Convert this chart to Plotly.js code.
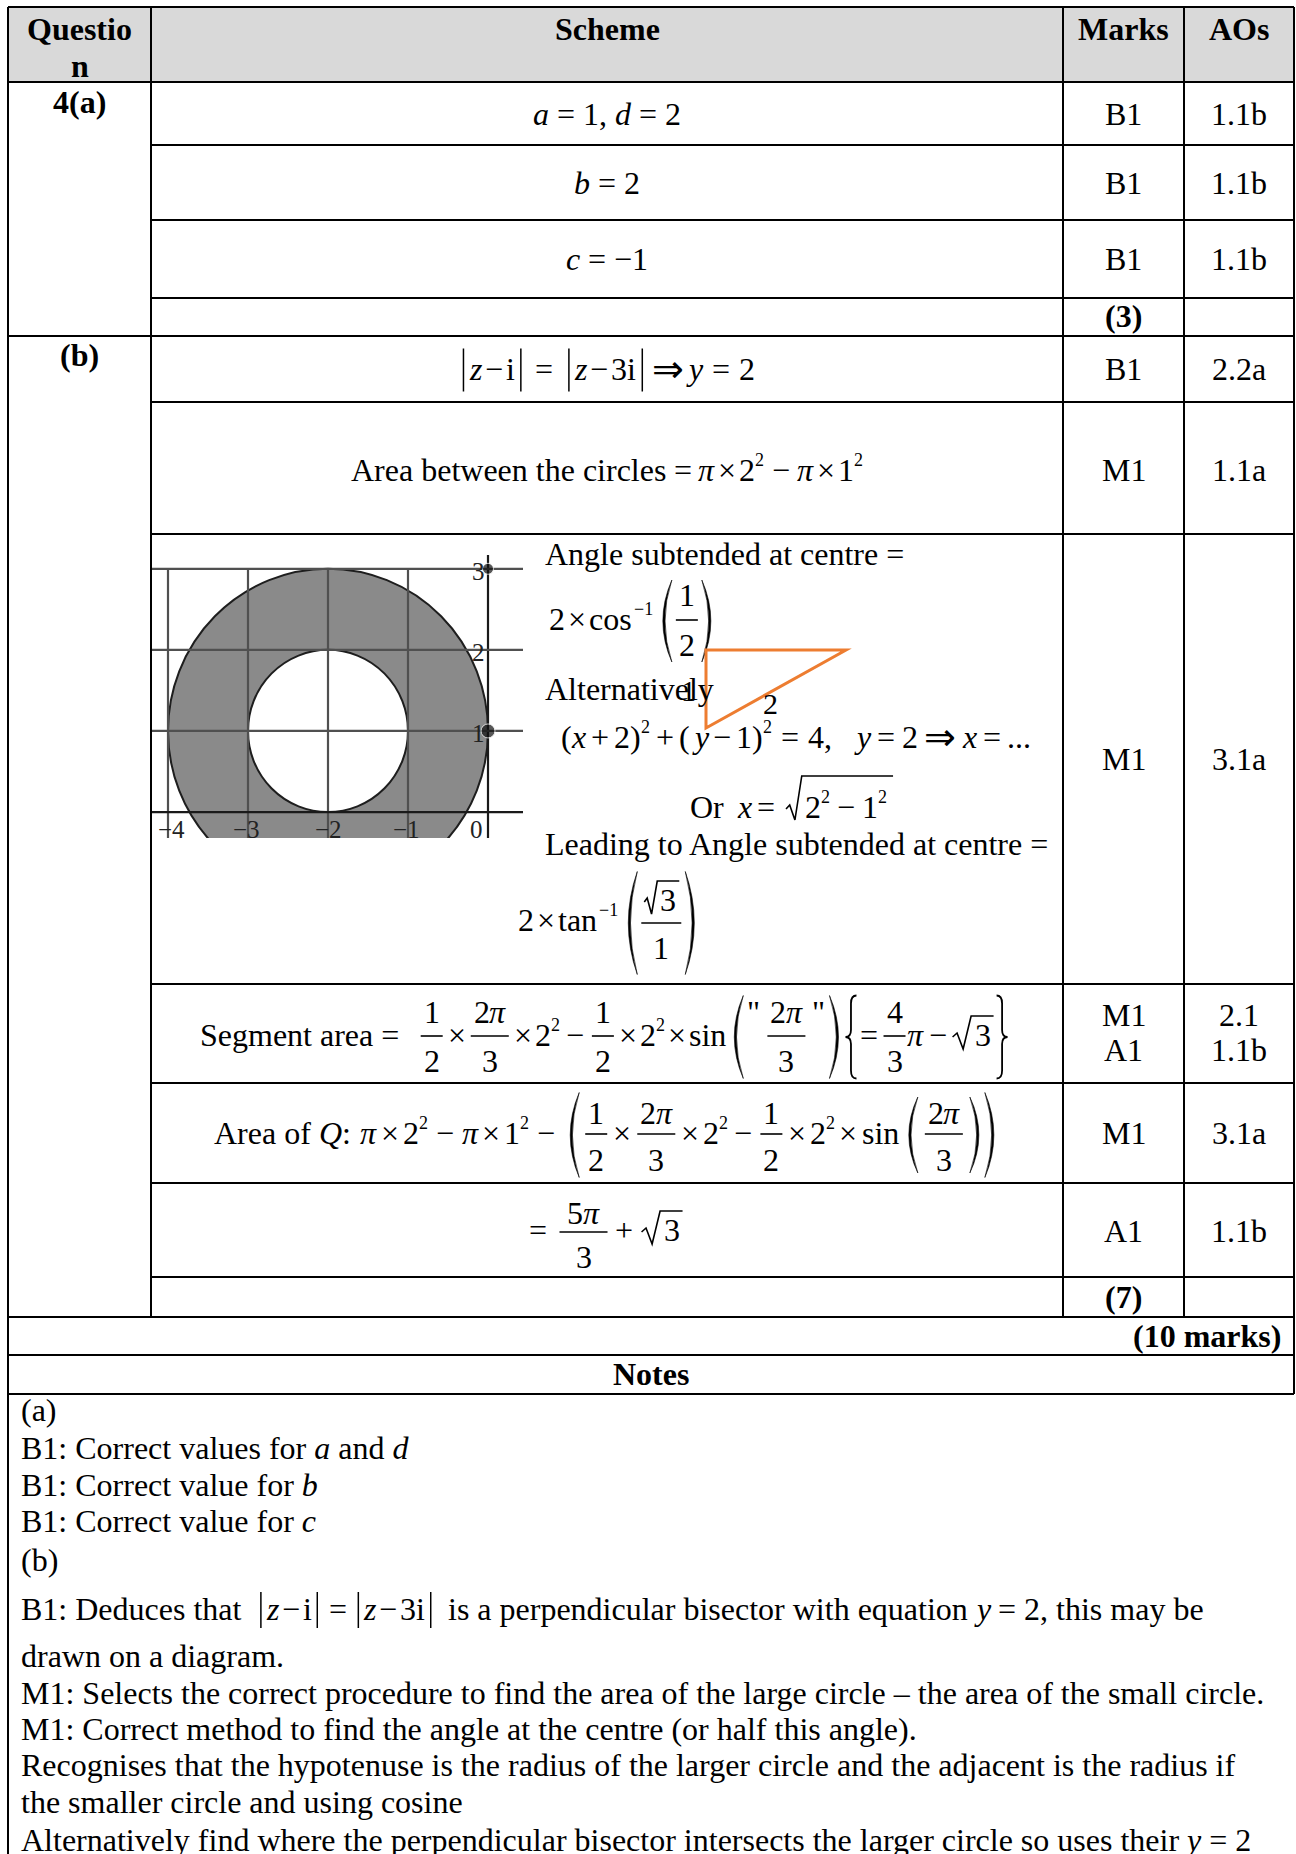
<!DOCTYPE html>
<html><head><meta charset="utf-8">
<script src="https://cdn.plot.ly/plotly-3.0.1.min.js"></script>
<style>html,body{margin:0;padding:0;background:#fff;}#chart{width:1296px;height:1854px;}</style>
</head><body><div id="chart"></div>
<script>
// ---------------- data ----------------
const headerLabels = ['Questio', 'n', 'Scheme', 'Marks', 'AOs'];
const questionParts = ['4(a)', '(b)'];
const markCodes = ['B1', 'B1', 'B1', '(3)', 'B1', 'M1', 'M1', 'M1', 'A1', 'M1', 'A1', '(7)'];
const aoCodes = ['1.1b', '1.1b', '1.1b', '', '2.2a', '1.1a', '3.1a', '2.1', '1.1b', '3.1a', '1.1b', ''];
const totalMarks = '(10 marks)';
const notesTitle = 'Notes';
const noteLines = [
  '(a)',
  'B1: Correct values for <i>a</i> and <i>d</i>',
  'B1: Correct value for <i>b</i>',
  'B1: Correct value for <i>c</i>',
  '(b)',
  null,
  'drawn on a diagram.',
  'M1: Selects the correct procedure to find the area of the large circle \u2013 the area of the small circle.',
  'M1: Correct method to find the angle at the centre (or half this angle).',
  'Recognises that the hypotenuse is the radius of the larger circle and the adjacent is the radius if',
  'the smaller circle and using cosine',
  'Alternatively find where the perpendicular bisector intersects the larger circle so uses their <i>y</i> = 2'
];
const gridX = [-4, -3, -2, -1, 0];
const gridY = [0, 1, 2, 3];
const xTickLabels = ['\u22124', '\u22123', '\u22122', '\u22121', '0'];
const yTickValues = [1, 2, 3];
const yTickLabels = ['1', '2', '3'];
const circleCentre = [-2, 1];
const circleRadii = [2, 1];
const pointX = [0, 0];
const pointY = [3, 1];
const triangleSideLabels = ['1', '2'];

// ---------------- helpers ----------------
const FAM = '"Liberation Serif", "Times New Roman", serif';
const FS = 32, SFS = 18;
const cv = document.createElement('canvas').getContext('2d');
function mw(s, size, ital, bold) {
  cv.font = (ital ? 'italic ' : '') + (bold ? 'bold ' : '') + size + 'px ' + FAM;
  return cv.measureText(s).width;
}
const annotations = [], shapes = [];
function put(s, cx, cy, o) {
  o = o || {};
  annotations.push({
    xref: 'x2', yref: 'y2', x: cx, y: cy,
    text: o.i ? '<i>' + s + '</i>' : s,
    showarrow: false, xanchor: o.xa || 'center', yanchor: 'middle',
    borderpad: 0, borderwidth: 0,
    font: {family: FAM, size: o.s || FS, color: o.c || '#000', weight: o.b ? 'bold' : 'normal'}
  });
}
function seg(x0, y0, x1, y1, w, c) {
  shapes.push({type: 'line', xref: 'x2', yref: 'y2', x0, y0, x1, y1, line: {color: c || '#000', width: w || 2}});
}
function pth(d, w, fill, c) {
  shapes.push({type: 'path', xref: 'x2', yref: 'y2', path: d, line: {color: c || '#000', width: w}, fillcolor: fill || 'rgba(0,0,0,0)'});
}
function T(s, o) {
  o = o || {};
  const size = o.s || FS;
  const lead = s.length - s.replace(/^\s+/, '').length;
  const core = s.trim();
  const lw = lead ? mw(s.slice(0, lead), size, o.i, o.b) : 0;
  const cw = mw(core, size, o.i, o.b);
  const w = mw(s, size, o.i, o.b);
  return {w, draw(x, y) { if (core) put(core, x + lw + cw / 2, y + (o.dy || 0), o); }};
}
const I = (s, o) => T(s, Object.assign({i: true}, o || {}));
const SUP = (s) => T(s, {s: SFS, dy: -10});
const SP = (w) => ({w, draw() {}});
const OP = (s, g, o) => [SP(g), T(s, o), SP(g)];
const X = (g) => OP('\u00d7', g == null ? 3 : g);
const M = (g) => OP('\u2212', g == null ? 5 : g);
const E = (g) => OP('=', g == null ? 6 : g);
const P = (g) => OP('+', g == null ? 5 : g);
const IMP = () => T('\u21d2', {s: 38});
function ROW(items) {
  items = items.flat(Infinity);
  const w = items.reduce((a, b) => a + b.w, 0);
  return {w, draw(x, y) { let cx = x; items.forEach(it => { it.draw(cx, y); cx += it.w; }); }};
}
function FR(num, den, o) {
  o = o || {};
  const n = ROW(num), d = ROW(den);
  const w = Math.max(n.w, d.w) + (o.pad != null ? o.pad : 10);
  const nd = o.nd != null ? o.nd : -23, dd = o.dd != null ? o.dd : 26, bd = o.bd != null ? o.bd : 1;
  return {w, draw(x, y) {
    n.draw(x + (w - n.w) / 2, y + nd);
    d.draw(x + (w - d.w) / 2, y + dd);
    seg(x + 2, y + bd, x + w - 2, y + bd, 1.6);
  }};
}
function PAR(side, h, o) {
  o = o || {};
  const w = o.w || 13;
  return {w, draw(x, y) {
    const cy = y + (o.dy != null ? o.dy : 2), t = cy - h / 2, b = cy + h / 2;
    let ex, om, im;
    if (side === '(') { ex = x + w - 2; om = x + 2; im = x + 4.2; }
    else { ex = x + 2; om = x + w - 2; im = x + w - 4.2; }
    pth(`M${ex},${t} Q${2 * om - ex},${cy} ${ex},${b} Q${2 * im - ex},${cy} ${ex},${t} Z`, 0.6, '#000');
  }};
}
function BR(side, h, o) {
  o = o || {};
  const w = o.w || 13;
  return {w, draw(x, y) {
    const cy = y + (o.dy != null ? o.dy : 2), t = cy - h / 2, b = cy + h / 2;
    const mx = x + w / 2;
    const ex = side === '{' ? x + w - 1 : x + 1;
    const px = side === '{' ? x + 1 : x + w - 1;
    pth(`M${ex},${t} Q${mx},${t} ${mx},${t + 8} L${mx},${cy - 7} Q${mx},${cy} ${px},${cy} Q${mx},${cy} ${mx},${cy + 7} L${mx},${b - 8} Q${mx},${b} ${ex},${b}`, 1.8);
  }};
}
function BAR(h, o) {
  o = o || {};
  const w = o.w || 10;
  return {w, draw(x, y) { const cy = y + (o.dy || 1); seg(x + w / 2, cy - h / 2, x + w / 2, cy + h / 2, 1.5); }};
}
function SQ(items, o) {
  o = o || {};
  const c = ROW(items);
  const top = o.top != null ? o.top : -19, bot = o.bot != null ? o.bot : 14;
  const L = o.lead != null ? o.lead : 23;
  const w = L + c.w + (o.tail != null ? o.tail : 3);
  const k = L - 2;
  return {w, draw(x, y) {
    pth(`M${x + 1},${y + 2} L${x + 0.26 * k},${y - 2} L${x + 0.55 * k},${y + bot} L${x + 0.93 * k},${y + top} L${x + w},${y + top}`, 1.6);
    c.draw(x + L, y);
  }};
}
function at(items, x, y) { ROW(items).draw(x, y); }
function mid(items, cx, y) { const r = ROW(items); r.draw(cx - r.w / 2, y); }

// ---------------- table frame ----------------
shapes.push({type: 'rect', xref: 'x2', yref: 'y2', x0: 8, x1: 1294, y0: 7, y1: 82, fillcolor: '#d9d9d9', line: {width: 0}, layer: 'below'});
[[8, 7, 1854], [151, 7, 1317], [1063, 7, 1317], [1184, 7, 1317], [1294, 7, 1394]].forEach(v => seg(v[0], v[1], v[0], v[2], 2));
[[7, 8], [82, 8], [145, 151], [220, 151], [298, 151], [336, 8], [402, 151], [534, 151], [984, 151],
 [1083, 151], [1183, 151], [1277, 151], [1317, 8], [1355, 8], [1394, 8]].forEach(h => seg(h[1], h[0], 1294, h[0], 2));

// header
const headerPos = [[79.5, 29], [79.5, 66], [607, 29], [1123.5, 29], [1239, 29]];
headerLabels.forEach((s, i) => put(s, headerPos[i][0], headerPos[i][1], {b: true}));
// question column
[102, 355].forEach((y, i) => put(questionParts[i], 79.5, y, {b: true}));
// marks and AOs
const markY = [114, 183, 259, 316, 369, 470, 759, 1015, 1050, 1133, 1231, 1297];
markCodes.forEach((s, i) => put(s, 1123.5, markY[i], {b: s.startsWith('(')}));
aoCodes.forEach((s, i) => { if (s) put(s, 1239, markY[i]); });
put(totalMarks, 1281, 1336, {b: true, xa: 'right'});
put(notesTitle, 651, 1374, {b: true});

// ---------------- scheme column ----------------
const C = 607;
mid([I('a'), T(' = 1, '), I('d'), T(' = 2')], C, 114);
mid([I('b'), T(' = 2')], C, 183);
mid([I('c'), T(' = \u22121')], C, 259);
mid([BAR(43, {w: 12}), I('z'), M(3), T('i'), BAR(43, {w: 12}), SP(8), T('='), SP(10), BAR(43, {w: 12}), I('z'), M(3), T('3i'), BAR(43, {w: 12}), SP(4), IMP(), SP(4), I('y'), E(9), T('2')], 606, 369);
mid([T('Area between the circles'), E(7), I('\u03c0'), X(), T('2'), SUP('2'), M(8), I('\u03c0'), X(), T('1'), SUP('2')], 607, 470);

// diagram cell text
at([T('Angle subtended at centre =')], 545, 554);
at([T('2'), X(), T('cos'), SP(2), SUP('\u22121'), SP(8), PAR('(', 82), FR([T('1')], [T('2')], {nd: -24, dd: 26}), PAR(')', 82)], 549, 619);
at([T('Alternatively')], 545, 689);
at([T('('), I('x'), P(5), T('2)'), SUP('2'), P(6), T('('), SP(4), I('y'), M(5), T('1)'), SUP('2'), E(9), T('4,'), SP(24),
    I('y'), E(7), T('2'), SP(6), IMP(), SP(6), I('x'), E(6), T('...')], 561, 737);
at([T('Or'), SP(14), I('x'), E(5), SP(5), SQ([T('2'), SUP('2'), M(7), T('1'), SUP('2')], {top: -31, bot: 13, lead: 20, tail: 6})], 690, 807);
at([T('Leading to Angle subtended at centre =')], 544, 844);
at([T('2'), X(), T('tan'), SP(2), SUP('\u22121'), SP(8), PAR('(', 103, {dy: 3}),
    FR([SQ([T('3')], {top: -19, lead: 17})], [T('1')], {nd: -20, dd: 28, bd: 3, pad: 8}), PAR(')', 103, {dy: 3})], 518, 920);
// orange triangle overlay
shapes.push({type: 'path', xref: 'x2', yref: 'y2', path: 'M706,650 L846,650 L706,728 Z', line: {color: '#ED7D31', width: 3}, fillcolor: 'rgba(0,0,0,0)'});
put(triangleSideLabels[0], 688, 690, {s: 30});
put(triangleSideLabels[1], 770, 703, {s: 30});

// segment area
const half = (o) => FR([T('1')], [T('2')], o);
const twoPiThird = (o) => FR([T('2'), I('\u03c0')], [T('3')], o);
const Q = (s) => T(s, {dy: -23});
mid([T('Segment area ='), SP(20), half(), X(), twoPiThird(), X(), T('2'), SUP('2'), M(6), half(), X(), T('2'), SUP('2'), X(), T('sin'), SP(6),
     PAR('(', 83), SP(2), Q('"'), SP(5), twoPiThird(), SP(5), Q('"'), SP(2), PAR(')', 83), SP(4), BR('{', 83), E(3), FR([T('4')], [T('3')]),
     I('\u03c0'), M(5), SQ([T('3')]), SP(2), BR('}', 83)], 604, 1035);
// area of Q
const qo = {nd: -20, dd: 27};
mid([T('Area of '), I('Q'), T(':'), SP(10), I('\u03c0'), X(4), T('2'), SUP('2'), M(8), I('\u03c0'), X(4), T('1'), SUP('2'), M(8), SP(5),
     PAR('(', 85), SP(2), half(qo), X(4), twoPiThird(qo), X(4), T('2'), SUP('2'), M(6), half(qo), X(4), T('2'), SUP('2'), X(4), T('sin'), SP(8),
     PAR('(', 76), SP(3), twoPiThird(qo), SP(3), PAR(')', 76), SP(2), PAR(')', 85)], 605, 1133);
// final result
mid([T('='), SP(10), FR([T('5'), I('\u03c0')], [T('3')], {nd: -17, dd: 27, bd: 2, pad: 20}), P(5), SP(3), SQ([T('3')])], 606, 1230);

// ---------------- notes ----------------
const noteY = [1410, 1448, 1485, 1521, 1560, 1609, 1656, 1693, 1729, 1765, 1802, 1840];
noteLines.forEach((s, i) => { if (s) put(s, 21, noteY[i], {xa: 'left'}); });
at([T('B1: Deduces that'), SP(14), BAR(36, {w: 11}), I('z'), M(3), T('i'), BAR(36, {w: 11}), E(6), BAR(36, {w: 11}), I('z'), M(3), T('3i'), BAR(36, {w: 11}), SP(12),
    T('is a perpendicular bisector with equation '), I('y'), T(' = 2, this may be')], 21, noteY[5]);

// ---------------- diagram (real axes) ----------------
const dShapes = circleRadii.map((r, i) => ({
  type: 'circle', xref: 'x', yref: 'y', layer: 'below',
  x0: circleCentre[0] - r, x1: circleCentre[0] + r, y0: circleCentre[1] - r, y1: circleCentre[1] + r,
  fillcolor: i === 0 ? '#8a8a8a' : '#ffffff', line: {color: '#1e1e1e', width: 2}
}));
const xr = [-4.2, 0.4375], yr = [-0.32, 3.17];
const traces = [];
gridX.forEach(gx => traces.push({type: 'scatter', mode: 'lines', xaxis: 'x', yaxis: 'y', hoverinfo: 'skip',
  x: [gx, gx], y: [yr[0], gx === 0 ? yr[1] : Math.max(...gridY)], line: {color: gx === 0 ? '#1a1a1a' : '#505050', width: 2.2}}));
gridY.forEach(gy => traces.push({type: 'scatter', mode: 'lines', xaxis: 'x', yaxis: 'y', hoverinfo: 'skip',
  x: xr, y: [gy, gy], line: {color: gy === 0 ? '#1a1a1a' : '#505050', width: 2.2}}));
traces.push({type: 'scatter', mode: 'markers', xaxis: 'x', yaxis: 'y', hoverinfo: 'skip', cliponaxis: false,
  x: pointX, y: pointY, marker: {color: '#111', size: [11, 14]}});
traces.push({type: 'scatter', mode: 'markers', xaxis: 'x2', yaxis: 'y2', hoverinfo: 'skip', x: [0], y: [0], marker: {opacity: 0}});
const xLabOff = [0.04, -0.02, 0, -0.02, -0.14];
gridX.forEach((gx, i) => annotations.push({xref: 'x', yref: 'y', x: gx + xLabOff[i], y: -0.22, text: xTickLabels[i], showarrow: false,
  font: {family: FAM, size: 25, color: '#222'}, xanchor: 'center', yanchor: 'middle'}));
yTickValues.forEach((v, i) => annotations.push({xref: 'x', yref: 'y', x: -0.12, y: v - 0.03, text: yTickLabels[i], showarrow: false,
  font: {family: FAM, size: 25, color: '#222'}, xanchor: 'center', yanchor: 'middle'}));

const layout = {
  width: 1296, height: 1854, margin: {l: 0, r: 0, t: 0, b: 0},
  paper_bgcolor: '#ffffff', plot_bgcolor: 'rgba(0,0,0,0)', showlegend: false,
  xaxis: {domain: [152 / 1296, 523 / 1296], range: xr, visible: false, fixedrange: true},
  yaxis: {domain: [1 - 838 / 1854, 1 - 555 / 1854], range: yr, visible: false, fixedrange: true},
  xaxis2: {domain: [0, 1], range: [0, 1296], visible: false, anchor: 'y2', fixedrange: true},
  yaxis2: {domain: [0, 1], range: [1854, 0], visible: false, anchor: 'x2', fixedrange: true},
  shapes: dShapes.concat(shapes),
  annotations: annotations
};
Plotly.newPlot('chart', traces, layout, {staticPlot: true, displayModeBar: false});
</script></body></html>
